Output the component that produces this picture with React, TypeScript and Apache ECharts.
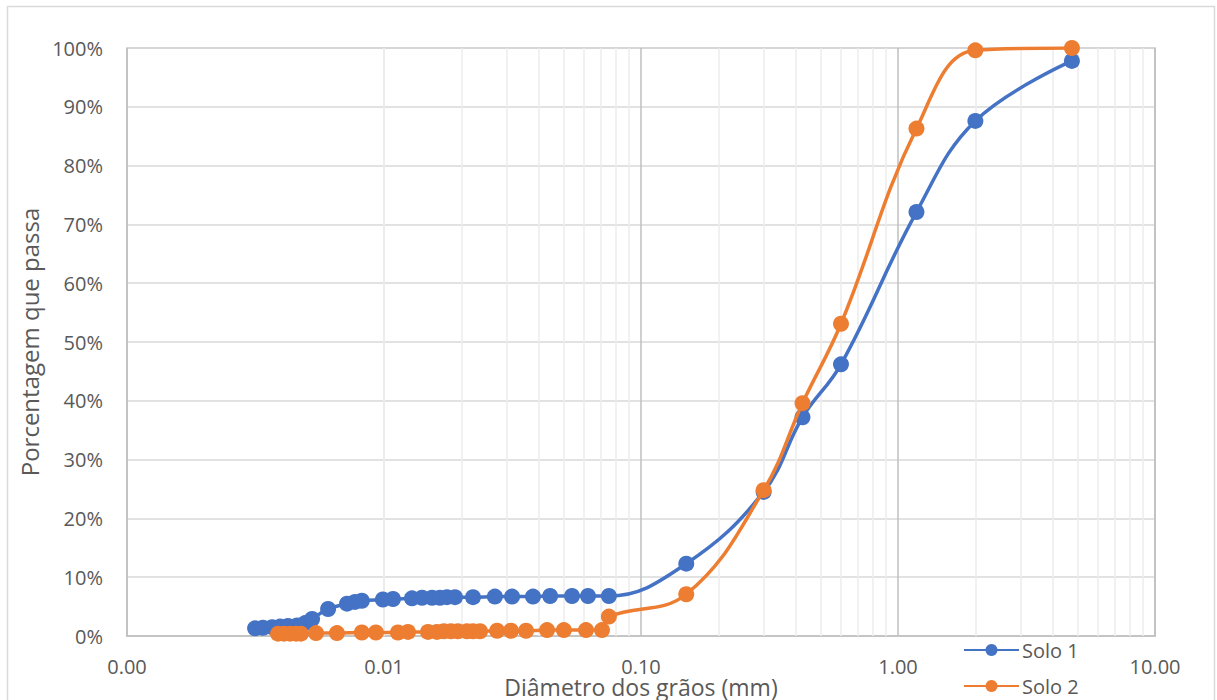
import React, { useEffect, useRef } from "react";
import * as echarts from "echarts";

const seriesNames = ["Solo 1", "Solo 2"];

const solo1Diam = [
  0.00315, 0.00338, 0.00367, 0.00394, 0.00423, 0.00459, 0.00493, 0.00525, 0.00606,
  0.00718, 0.00771, 0.0082, 0.0099, 0.01084, 0.01285, 0.01406, 0.01538, 0.01651,
  0.01758, 0.01889, 0.0222, 0.027, 0.0315, 0.038, 0.0443, 0.0539, 0.0622, 0.075,
  0.15, 0.3, 0.425, 0.6, 1.18, 2.0, 4.75,
];
const solo1Pass = [
  1.3, 1.4, 1.5, 1.6, 1.7, 1.8, 2.2, 2.9, 4.6,
  5.5, 5.8, 6.0, 6.2, 6.3, 6.4, 6.5, 6.5, 6.5,
  6.6, 6.6, 6.6, 6.7, 6.7, 6.7, 6.8, 6.8, 6.8, 6.8,
  12.3, 24.5, 37.2, 46.2, 72.1, 87.6, 97.8,
];

const solo2Diam = [
  0.00387, 0.00408, 0.00431, 0.00455, 0.00475, 0.00544, 0.00656, 0.0082, 0.0093,
  0.01133, 0.0124, 0.01483, 0.01607, 0.0171, 0.01823, 0.0194, 0.02104, 0.0222,
  0.02364, 0.02754, 0.0312, 0.0357, 0.0431, 0.0501, 0.0611, 0.0705, 0.075,
  0.15, 0.3, 0.425, 0.6, 1.18, 2.0, 4.75,
];
const solo2Pass = [
  0.4, 0.4, 0.4, 0.4, 0.4, 0.5, 0.5, 0.6, 0.6,
  0.6, 0.7, 0.7, 0.7, 0.8, 0.8, 0.8, 0.8, 0.8,
  0.8, 0.9, 0.9, 0.9, 1.0, 1.0, 1.0, 1.0, 3.3,
  7.1, 24.8, 39.6, 53.1, 86.3, 99.6, 100,
];

const decades = [0.001, 0.01, 0.1, 1];
const minorMultipliers = [2, 3, 4, 5, 6, 7, 8, 9];

const colors = ["#4472C4", "#ED7D31"];
const FONT = "'Open Sans', sans-serif";
const TEXT = "#595959";

export default function App() {
  const ref = useRef<HTMLDivElement>(null);
  useEffect(() => {
    if (!ref.current) return;
    const chart = echarts.init(ref.current, null, { renderer: "svg" });
    const minorLines: any[] = [];
    decades.forEach((d) =>
      minorMultipliers.forEach((m) => minorLines.push({ xAxis: +(d * m).toPrecision(3) }))
    );
    const pairs = (xs: number[], ys: number[]) => xs.map((x, i) => [x, ys[i]]);
    const legendBase = {
      orient: "vertical",
      left: 963,
      itemWidth: 55,
      itemHeight: 15,
      padding: 0,
      textStyle: { fontSize: 20, lineHeight: 20, color: TEXT, fontFamily: FONT, padding: [0, 0, 0, -2] },
    };
    chart.setOption({
      animation: false,
      textStyle: { fontFamily: FONT },
      graphic: [
        {
          type: "rect",
          shape: { x: 7.5, y: 6.5, width: 1207, height: 720 },
          style: { fill: "none", stroke: "#d9d9d9", lineWidth: 1.5 },
          silent: true,
        },
      ],
      grid: {
        left: 127,
        right: 62,
        top: 48,
        bottom: 64,
        show: true,
        borderColor: "#bfbfbf",
        borderWidth: 1.5,
        containLabel: false,
        outerBoundsMode: "none",
      },
      legend: [
        { ...legendBase, top: 640, data: [seriesNames[0]] },
        { ...legendBase, top: 676, data: [seriesNames[1]] },
      ],
      xAxis: {
        type: "log",
        logBase: 10,
        min: 0.001,
        max: 10,
        name: "Diâmetro dos grãos (mm)",
        nameLocation: "middle",
        nameGap: 39,
        nameMoveOverlap: false,
        nameTextStyle: { fontSize: 23, lineHeight: 23, color: TEXT, fontFamily: FONT },
        axisLine: { show: true, lineStyle: { color: "#bfbfbf", width: 1.5 } },
        axisTick: { show: false },
        axisLabel: {
          fontSize: 20,
          color: TEXT,
          fontFamily: FONT,
          margin: 20,
          formatter: (v: number) => v.toFixed(2),
        },
        splitLine: { show: true, lineStyle: { color: "#bfbfbf", width: 1.5 } },
      },
      yAxis: {
        type: "value",
        min: 0,
        max: 100,
        interval: 10,
        name: "Porcentagem que passa",
        nameLocation: "middle",
        nameGap: 80,
        nameTextStyle: { fontSize: 24, lineHeight: 24, color: TEXT, fontFamily: FONT },
        axisLine: { show: false },
        axisTick: { show: false },
        axisLabel: {
          fontSize: 20,
          color: TEXT,
          fontFamily: FONT,
          margin: 24,
          formatter: (v: number) => v + "%",
        },
        splitLine: { show: true, lineStyle: { color: "#d9d9d9", width: 1.5 } },
      },
      series: [
        {
          type: "line",
          name: "minor",
          data: [],
          z: 1,
          silent: true,
          markLine: {
            silent: true,
            z: 1,
            symbol: "none",
            label: { show: false },
            lineStyle: { color: "#ececec", width: 1.5, type: "solid" },
            emphasis: { disabled: true },
            data: minorLines,
          },
        },
        {
          type: "line",
          name: seriesNames[0],
          data: pairs(solo1Diam, solo1Pass),
          smooth: 0.4,
          symbol: "circle",
          symbolSize: 16,
          z: 3,
          itemStyle: { color: colors[0] },
          lineStyle: { color: colors[0], width: 3.5 },
        },
        {
          type: "line",
          name: seriesNames[1],
          data: pairs(solo2Diam, solo2Pass),
          smooth: 0.4,
          symbol: "circle",
          symbolSize: 16,
          z: 4,
          itemStyle: { color: colors[1] },
          lineStyle: { color: colors[1], width: 3.5 },
        },
      ],
    });
    return () => chart.dispose();
  }, []);
  return (
    <div
      ref={ref}
      style={{ position: "fixed", left: 0, top: 0, width: 1217, height: 700, background: "#fff" }}
    />
  );
}
